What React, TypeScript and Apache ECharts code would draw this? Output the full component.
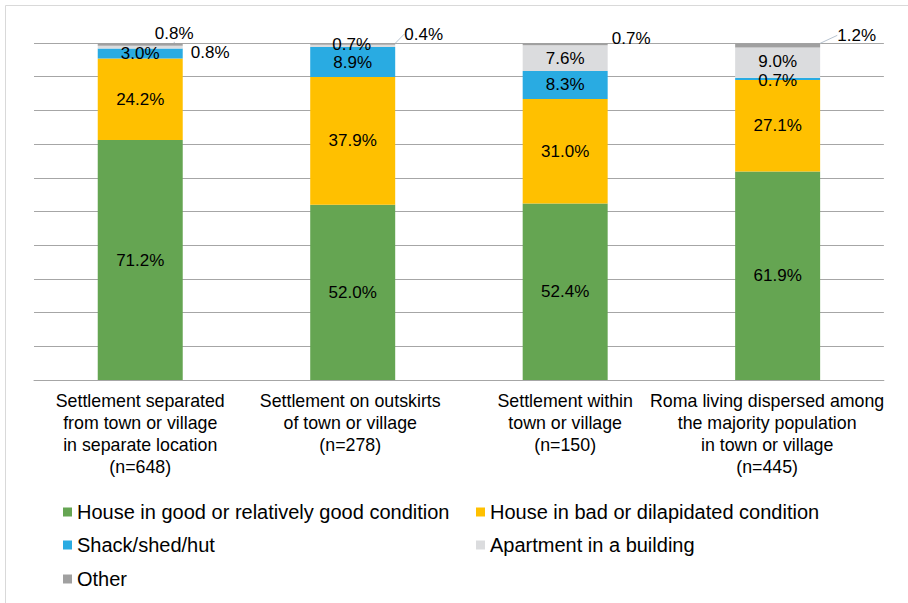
import React, { useEffect, useRef } from 'react';
import * as echarts from 'echarts';

const categories = [
  'Settlement separated\nfrom town or village\nin separate location\n(n=648)',
  'Settlement on outskirts\nof town or village\n(n=278)',
  'Settlement within\ntown or village\n(n=150)',
  'Roma living dispersed among\nthe majority population\nin town or village\n(n=445)',
];

const seriesNames = [
  'House in good or relatively good condition',
  'House in bad or dilapidated condition',
  'Shack/shed/hut',
  'Apartment in a building',
  'Other',
];

const goodHouse = [71.2, 52.0, 52.4, 61.9];
const badHouse = [24.2, 37.9, 31.0, 27.1];
const shack = [3.0, 8.9, 8.3, 0.7];
const apartment = [0.8, 0.7, 7.6, 9.0];
const other = [0.8, 0.4, 0.7, 1.2];

const seriesValues = [goodHouse, badHouse, shack, apartment, other];
const colors = ['#65A552', '#FFC000', '#29ABE2', '#DBDCDE', '#A0A0A0'];

// label shifts (style only): [seriesIndex][dataIndex] -> [dx, dy]
const labelShifts: Record<number, Record<number, [number, number]>> = {
  2: { 3: [0, 2] },
  3: { 0: [70, 5], 1: [-1, -1], 3: [0, -1] },
  4: { 0: [34, -11], 1: [71, -10], 2: [66, -6], 3: [79, -10] },
};
const leaderLines: Record<number, boolean[]> = {
  4: [true, true, false, true],
};
const catPadding = [[0, 0, 0, 0], [0, 5, 0, 0], [0, 0, 0, 0], [0, 21, 0, 0]];

const FONT = '"Liberation Sans", Arial, sans-serif';

export default function App() {
  const ref = useRef<HTMLDivElement>(null);
  useEffect(() => {
    document.body.style.margin = '0';
    const chart = echarts.init(ref.current!, null, { renderer: 'svg' });
    const legendPos = [
      [63, 502],
      [476, 502],
      [63, 535],
      [476, 535],
      [63, 569],
    ];
    const option: any = {
      animation: false,
      backgroundColor: '#fff',
      textStyle: { fontFamily: FONT },
      graphic: [
        {
          type: 'rect',
          silent: true,
          z: -10,
          shape: { x: 5.5, y: 5.5, width: 1000, height: 1000 },
          style: { fill: 'none', stroke: '#D9D9D9', lineWidth: 1 },
        },
      ],
      grid: { left: 34, right: 22, top: 43, bottom: 223 },
      xAxis: {
        type: 'category',
        data: categories.map((c, i) => ({ value: c, textStyle: { padding: catPadding[i] } })),
        axisLine: { lineStyle: { color: '#A6A6A6', width: 1 } },
        axisTick: { show: false },
        axisLabel: {
          color: '#000',
          fontSize: 17.8,
          lineHeight: 22,
          margin: 10,
          interval: 0,
          fontFamily: FONT,
          align: 'center',
        },
      },
      yAxis: {
        type: 'value',
        min: 0,
        max: 100,
        interval: 10,
        axisLabel: { show: false },
        axisLine: { show: false },
        axisTick: { show: false },
        splitLine: { lineStyle: { color: '#A6A6A6', width: 1 } },
      },
      legend: legendPos.map((p, i) => ({
        data: [seriesNames[i]],
        left: p[0],
        top: p[1],
        padding: 0,
        icon: 'rect',
        itemWidth: 9,
        itemHeight: 9,
        selectedMode: false,
        textStyle: { fontSize: 20, color: '#000', fontFamily: FONT },
      })),
      series: seriesValues.map((vals, si) => ({
        name: seriesNames[si],
        type: 'bar',
        stack: 'total',
        barWidth: '40%',
        itemStyle: { color: colors[si] },
        label: {
          show: true,
          position: 'inside',
          color: '#000',
          fontSize: 17,
          fontFamily: FONT,
          textBorderWidth: 0,
          formatter: (p: any) => Number(p.value).toFixed(1) + '%',
        },
        labelLine: { show: false, lineStyle: { color: '#B7C3D0', width: 1 } },
        labelLayout: (params: any) => {
          const s = labelShifts[si]?.[params.dataIndex];
          if (!s) return {};
          return { dx: s[0], dy: s[1] };
        },
        data: vals.map((v, di) => ({
          value: v,
          labelLine: { show: !!(leaderLines[si] && leaderLines[si][di]), lineStyle: { color: '#B7C3D0', width: 1 } },
        })),
      })),
    };
    chart.setOption(option);
    return () => chart.dispose();
  }, []);
  return <div ref={ref} style={{ position: 'absolute', left: 0, top: 0, width: 908, height: 603 }} />;
}
